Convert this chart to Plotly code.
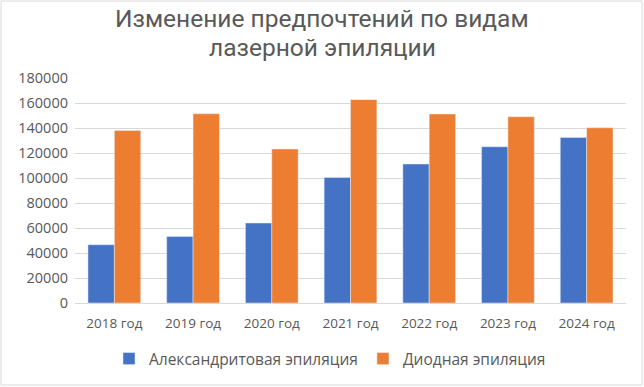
import plotly.graph_objects as go

categories = ["2018 год", "2019 год", "2020 год", "2021 год", "2022 год", "2023 год", "2024 год"]
alex = [46600, 53300, 64000, 100500, 111200, 125000, 132500]
diode = [138000, 151400, 123200, 162700, 151200, 149000, 140200]
series_names = ["Александритовая эпиляция", "Диодная эпиляция"]
title_lines = ["Изменение предпочтений по видам", "лазерной эпиляции"]

W, H = 644, 387
ml, mr, mt, mb = 75, 18, 78, 84
pw, ph = W - ml - mr, H - mt - mb

def py(page_y):
    return (H - mb - page_y) / ph

def px(page_x):
    return (page_x - ml) / pw

fig = go.Figure()
fig.add_trace(go.Bar(x=categories, y=alex, name=series_names[0], marker_color="#4472C4"))
fig.add_trace(go.Bar(x=categories, y=diode, name=series_names[1], marker_color="#ED7D31"))

fig.update_layout(
    width=W, height=H,
    margin=dict(l=ml, r=mr, t=mt, b=mb, autoexpand=False),
    paper_bgcolor="white", plot_bgcolor="white",
    barmode="group", bargap=0.33, bargroupgap=0,
    font=dict(family="Open Sans", size=13, color="#595959"),
    legend=dict(orientation="h", x=px(109), xanchor="left", y=py(359), yanchor="middle",
                font=dict(size=15.5, color="#595959"), traceorder="normal"),
    yaxis=dict(range=[0, 180000], dtick=20000, showgrid=True, gridcolor="#D9D9D9",
               gridwidth=1, zeroline=False, showline=False, tickformat="d",
               ticks="", ticklen=0, ticklabelstandoff=6,
               tickfont=dict(size=14.5, color="#595959")),
    xaxis=dict(showline=True, linecolor="#D9D9D9", linewidth=1, ticks="",
               ticklabelstandoff=8, tickfont=dict(size=13.5, color="#595959")),
)

for txt, yc in zip(title_lines, [18, 47]):
    fig.add_annotation(text=txt, xref="paper", yref="paper", x=px(322), y=py(yc),
                       xanchor="center", yanchor="middle", showarrow=False, borderpad=0,
                       font=dict(family="Roboto", size=24.5, color="#595959"))

# chart-area border
fig.add_shape(type="rect", xref="paper", yref="paper",
              x0=px(1), x1=px(642), y0=py(385), y1=py(1),
              line=dict(color="#D9D9D9", width=1), layer="below")

fig.write_html("out.html", config={"displayModeBar": False},
               post_script="document.body.style.margin='0px';")
